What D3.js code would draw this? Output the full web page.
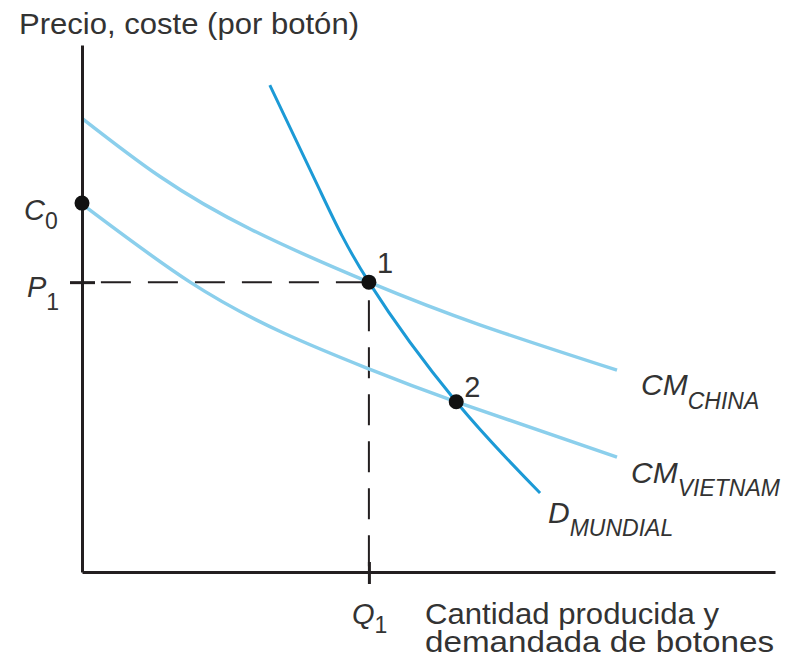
<!DOCTYPE html>
<html>
<head>
<meta charset="utf-8">
<script src="https://cdn.jsdelivr.net/npm/d3@7"></script>
<style>
  html, body { margin: 0; padding: 0; background: #fff; }
  svg { display: block; }
  text { font-family: "Liberation Sans", Arial, sans-serif; fill: #333; }
</style>
</head>
<body>
<svg id="chart" width="794" height="660"></svg>
<script>
// ---- data (abstract units 0..100) ----
const cmChinaX   = [0, 11.3, 24.4, 41.4, 57.4, 77.2];
const cmChinaY   = [86.1, 75.0, 65.0, 55.0, 46.9, 38.3];
const cmVietnamX = [0, 15.6, 29.0, 41.1, 54.0, 77.2];
const cmVietnamY = [69.8, 55.0, 45.4, 38.7, 32.3, 21.8];
const demandX    = [27.1, 34.3, 41.4, 54.0, 66.1];
const demandY    = [92.4, 72.5, 55.0, 32.3, 15.0];
const pointNames = ["1", "2"];
const pointX     = [41.4, 54.0];
const pointY     = [55.0, 32.3];
const c0Value    = 70.0;
const p1Value    = 55.0;
const q1Value    = 41.4;
const yTickLabels = [{main: "C", sub: "0", v: c0Value}, {main: "P", sub: "1", v: p1Value}];
const xTickLabels = [{main: "Q", sub: "1", v: q1Value}];
const curveLabels = [
  {main: "CM", sub: "CHINA"},
  {main: "CM", sub: "VIETNAM"},
  {main: "D",  sub: "MUNDIAL"}
];
const yAxisTitle = "Precio, coste (por botón)";
const xAxisTitle = ["Cantidad producida y", "demandada de botones"];

// ---- scales ----
const svg = d3.select("#chart");
const x = d3.scaleLinear().domain([0, 100]).range([82, 775]);
const y = d3.scaleLinear().domain([0, 100]).range([572, 45]);

const lightBlue = "#8bcfec";
const darkBlue = "#1c9ad6";
const axisColor = "#231f20";

const zip = (xs, ys) => xs.map((v, i) => [v, ys[i]]);
const line = d3.line().x(d => x(d[0])).y(d => y(d[1])).curve(d3.curveNatural);

// ---- dashed guides ----
svg.append("line")
  .attr("x1", x(q1Value) - 3).attr("x2", x(0) + 15)
  .attr("y1", y(p1Value)).attr("y2", y(p1Value))
  .attr("stroke", axisColor).attr("stroke-width", 2)
  .attr("stroke-dasharray", "30,17");
svg.append("line")
  .attr("x1", x(q1Value)).attr("x2", x(q1Value))
  .attr("y1", y(p1Value) + 18).attr("y2", y(0))
  .attr("stroke", axisColor).attr("stroke-width", 2)
  .attr("stroke-dasharray", "31,16");

// ---- curves ----
svg.append("path").datum(zip(cmChinaX, cmChinaY))
  .attr("d", line).attr("fill", "none").attr("stroke", lightBlue).attr("stroke-width", 3.5);
svg.append("path").datum(zip(cmVietnamX, cmVietnamY))
  .attr("d", line).attr("fill", "none").attr("stroke", lightBlue).attr("stroke-width", 3.5);
svg.append("path").datum(zip(demandX, demandY))
  .attr("d", line).attr("fill", "none").attr("stroke", darkBlue).attr("stroke-width", 3);

// ---- axes ----
const yAxis = d3.axisLeft(y).tickValues([p1Value]).tickSizeInner(12).tickSizeOuter(0).tickFormat("");
const gy = svg.append("g").attr("transform", `translate(${x(0)},0)`).call(yAxis);
gy.select(".domain").attr("stroke", axisColor).attr("stroke-width", 3);
gy.selectAll(".tick line").attr("stroke", axisColor).attr("stroke-width", 3).attr("x1", 13).attr("x2", -12);

const xAxis = d3.axisBottom(x).tickValues([q1Value]).tickSizeInner(12).tickSizeOuter(0).tickFormat("");
const gx = svg.append("g").attr("transform", `translate(0,${y(0)})`).call(xAxis);
gx.select(".domain").attr("stroke", axisColor).attr("stroke-width", 3);
gx.selectAll(".tick line").attr("stroke", axisColor).attr("stroke-width", 3).attr("y1", -10).attr("y2", 12);

// ---- points ----
svg.append("circle").attr("cx", x(0)).attr("cy", y(c0Value)).attr("r", 7.5).attr("fill", "#111");
pointNames.forEach((n, i) => {
  svg.append("circle").attr("cx", x(pointX[i])).attr("cy", y(pointY[i])).attr("r", 7.5).attr("fill", "#111");
});
svg.append("text").attr("x", x(pointX[0]) + 8).attr("y", y(pointY[0]) - 9)
  .attr("font-size", 29).text(pointNames[0]);
svg.append("text").attr("x", x(pointX[1]) + 8).attr("y", y(pointY[1]) - 5)
  .attr("font-size", 29).text(pointNames[1]);

// ---- labels with subscripts ----
function subLabel(xp, yp, main, sub, mainSize, subSize, dy, subItalic) {
  const t = svg.append("text").attr("x", xp).attr("y", yp);
  t.append("tspan").attr("font-size", mainSize).attr("font-style", "italic").text(main);
  t.append("tspan").attr("font-size", subSize).attr("dy", dy)
    .attr("font-style", subItalic ? "italic" : "normal").text(sub);
  return t;
}
subLabel(24, y(yTickLabels[0].v) + 17, yTickLabels[0].main, yTickLabels[0].sub, 29, 23, 9, false);
subLabel(27, y(yTickLabels[1].v) + 15, yTickLabels[1].main, yTickLabels[1].sub, 29, 23, 13, false);
subLabel(x(xTickLabels[0].v) - 17, 624, xTickLabels[0].main, xTickLabels[0].sub, 29, 23, 9, false);

subLabel(641, 395, curveLabels[0].main, curveLabels[0].sub, 30, 23, 14, true);
subLabel(631, 483, curveLabels[1].main, curveLabels[1].sub, 30, 23, 13, true);
subLabel(548, 523, curveLabels[2].main, curveLabels[2].sub, 30, 23, 13, true);

// ---- axis titles ----
svg.append("text").attr("x", 19).attr("y", 34).attr("font-size", 30)
  .attr("textLength", 340).attr("lengthAdjust", "spacingAndGlyphs").text(yAxisTitle);
svg.append("text").attr("x", 425).attr("y", 624).attr("font-size", 29)
  .attr("textLength", 294).attr("lengthAdjust", "spacingAndGlyphs").text(xAxisTitle[0]);
svg.append("text").attr("x", 425).attr("y", 652).attr("font-size", 29)
  .attr("textLength", 349).attr("lengthAdjust", "spacingAndGlyphs").text(xAxisTitle[1]);
</script>
</body>
</html>
